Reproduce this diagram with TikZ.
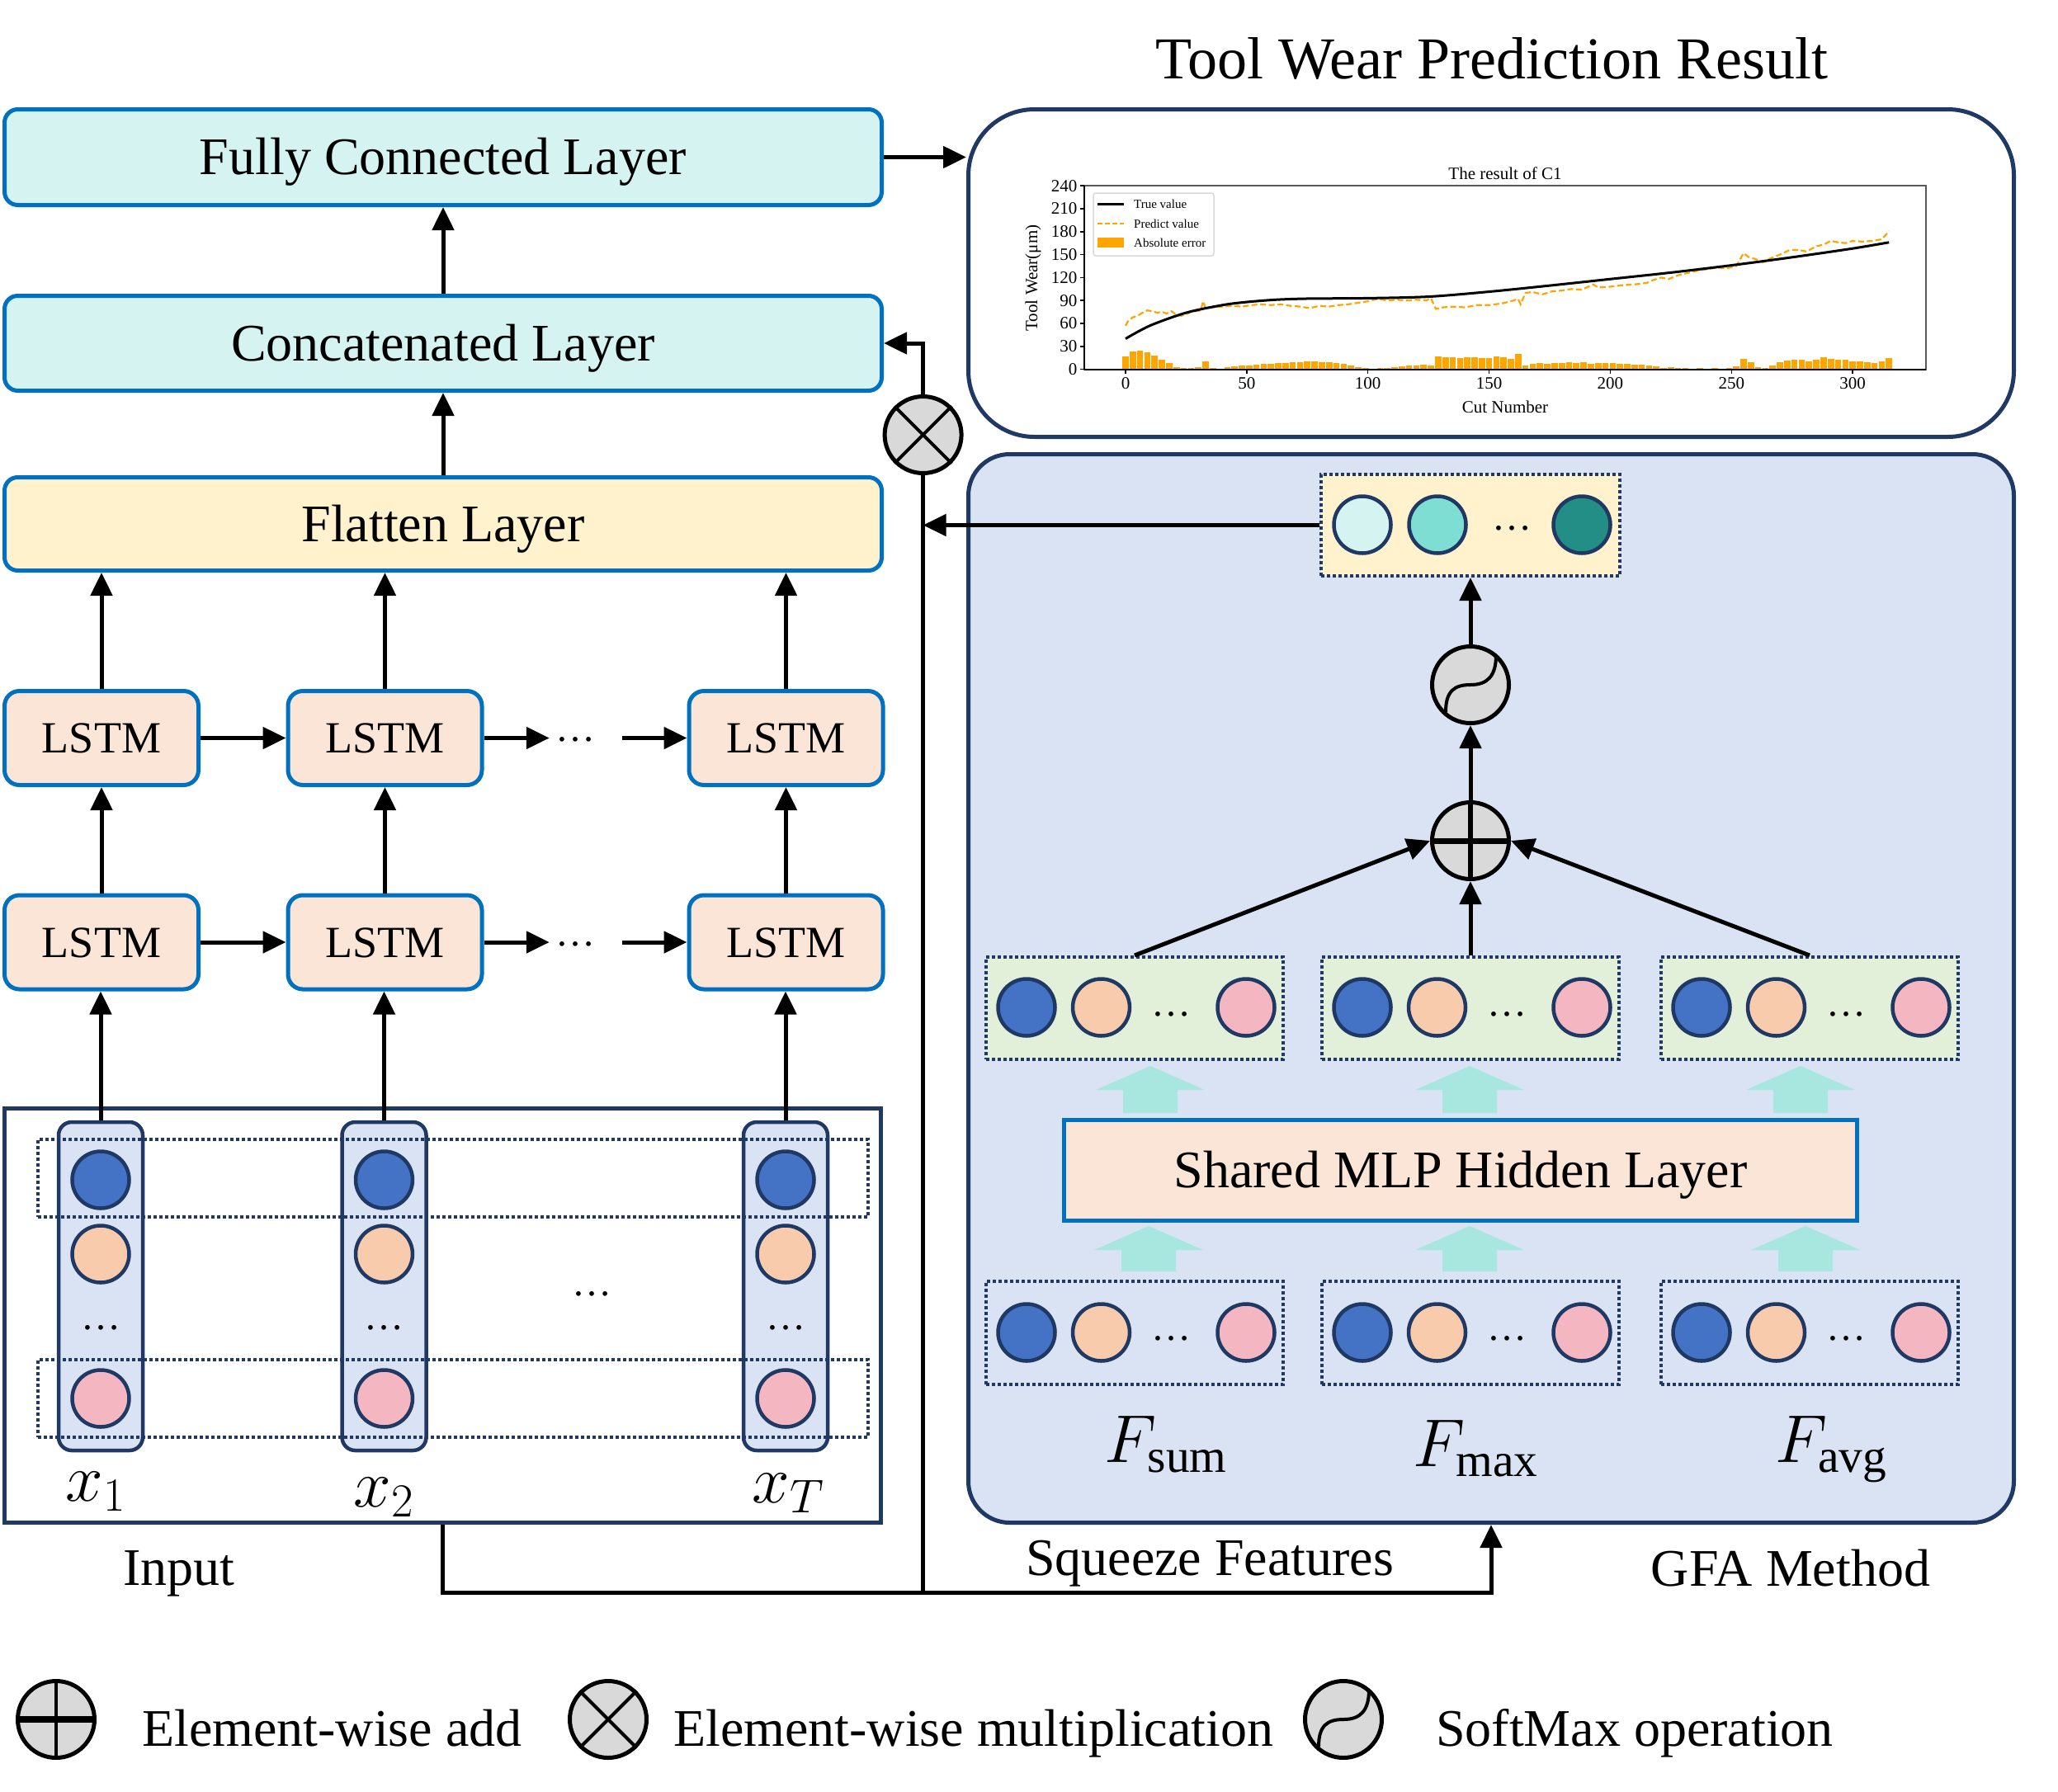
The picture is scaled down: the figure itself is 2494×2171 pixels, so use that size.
\RequirePackage{fix-cm}
\documentclass[tikz,border=0pt]{standalone}
\usepackage{fontspec}
\setmainfont{Liberation Serif}
\usetikzlibrary{arrows.meta,calc}
\definecolor{bord}{HTML}{0070C0}
\definecolor{navy}{HTML}{1F3864}
\definecolor{lcyan}{HTML}{D5F3F0}
\definecolor{flaty}{HTML}{FFF2CC}
\definecolor{lstmf}{HTML}{FBE5D6}
\definecolor{colf}{HTML}{DAE3F3}
\definecolor{cblue}{HTML}{4472C4}
\definecolor{corange}{HTML}{F8CBAD}
\definecolor{cpink}{HTML}{F4B6C0}
\definecolor{gboxf}{HTML}{E2F0D9}
\definecolor{aqua}{HTML}{A8E6E0}
\definecolor{outa}{HTML}{D5F3F0}
\definecolor{outb}{HTML}{7FDED4}
\definecolor{outc}{HTML}{238E85}
\definecolor{opgray}{HTML}{D9D9D9}
\definecolor{plotor}{HTML}{FFA500}
\newcommand\myfs[1]{\fontsize{#1}{#1}\selectfont}
\begin{document}
\begin{tikzpicture}[x=1pt,y=-1pt,
  arr/.style={line width=5pt,-{Triangle[length=28pt,width=26pt]}},
  conn/.style={line width=5pt},
  layerbox/.style={draw=bord,line width=5pt,rounded corners=16pt,minimum width=1063pt,inner sep=0pt,font=\myfs{64},text height=42pt,text depth=0pt},
  lstm/.style={draw=bord,fill=lstmf,line width=5pt,rounded corners=18pt,minimum width=235pt,minimum height=114pt,inner sep=0pt,font=\myfs{54},text height=36pt,text depth=0pt},
  colbox/.style={draw=navy,fill=colf,line width=4.5pt,rounded corners=16pt,minimum width=102pt,minimum height=398pt,inner sep=0pt},
  dotbox/.style={draw=navy,line width=4pt,dash pattern=on 4pt off 3pt,inner sep=0pt},
  ball/.style={circle,draw=navy,line width=4.5pt,minimum size=69pt,inner sep=0pt},
  ell/.style={font=\myfs{48},inner sep=0pt},
  opc/.style={circle,draw=black,line width=5pt,fill=opgray,minimum size=93pt,inner sep=0pt},
  lab/.style={font=\myfs{64},inner sep=0pt,anchor=base},
  chf/.style={font=\myfs{21},inner sep=0pt},
]
\useasboundingbox (0,0) rectangle (2494,2171);

% ---------- title ----------
\node[lab,font=\myfs{72}] (title) at (1808,95) {Tool Wear Prediction Result};

% ---------- left stack ----------
\node[layerbox,fill=lcyan,minimum height=116pt] (fc) at (537,190.5) {Fully Connected Layer};
\node[layerbox,fill=lcyan,minimum height=115pt] (concat) at (537,416) {Concatenated Layer};
\node[layerbox,fill=flaty,minimum height=113pt] (flat) at (537,635) {Flatten Layer};
\draw[arr] (concat.north) -- (fc.south);
\draw[arr] (flat.north) -- (concat.south);

\foreach \i/\x in {1/123,2/466.5,3/952.5}{
  \node[lstm] (u\i) at (\x,894.5) {LSTM};
  \node[lstm] (l\i) at (\x,1142) {LSTM};
}
\node[ell] (ud) at (697,896) {…};
\node[ell] (ld) at (697,1144) {…};
\draw[arr] (u1.east) -- (u2.west);
\draw[arr,shorten >=7pt] (u2.east) -- (u2.east -| ud.west);
\draw[arr,shorten <=33pt] (u3.west -| ud.east) -- (u3.west);
\draw[arr] (l1.east) -- (l2.west);
\draw[arr,shorten >=7pt] (l2.east) -- (l2.east -| ld.west);
\draw[arr,shorten <=33pt] (l3.west -| ld.east) -- (l3.west);

% ---------- input ----------
\node[draw=navy,line width=5pt,minimum width=1062pt,minimum height=502pt,inner sep=0pt] (input) at (536.5,1594.5) {};
\foreach \i/\x in {1/122,2/465.5,3/952}{
  \node[colbox] (c\i) at (\x,1559) {};
}
\node[dotbox,minimum width=1006pt,minimum height=94pt] (rowa) at (549,1428) {};
\node[dotbox,minimum width=1006pt,minimum height=94pt] (rowb) at (549,1695) {};
\foreach \i/\x in {1/122,2/465.5,3/952}{
  \node[ball,fill=cblue] (ba\i) at (\x,1430) {};
  \node[ball,fill=corange] (bb\i) at (\x,1520) {};
  \node[ell] (bd\i) at (\x,1609) {…};
  \node[ball,fill=cpink] (bc\i) at (\x,1695) {};
}
\node[ell] (md) at (717,1568) {…};
\node[lab,font=\myfs{82}] (x1) at (116,1819) {$x_1$};
\node[lab,font=\myfs{82}] (x2) at (465,1826) {$x_2$};
\node[lab,font=\myfs{82}] (xT) at (955,1821) {$x_T$};
\node[lab] (inlab) at (217,1921) {Input};

\foreach \i in {1,2,3}{
  \draw[arr] (u\i.north) -- (u\i.north |- flat.south);
  \draw[arr] (l\i.north) -- (u\i.south);
  \draw[arr] (c\i.north) -- (c\i.north |- l\i.south);
}

% ---------- chart ----------
\node[draw=navy,line width=5pt,rounded corners=80pt,minimum width=1267pt,minimum height=397pt,inner sep=0pt,fill=white] (chart) at (1807,331) {};
\begin{scope}[shift={(1364pt,-447.6pt)},x=2.937pt,y=0.9267pt]
  \foreach \n/\h in {0/17,3/23,6/24,9/22,12/18,15/12,18/8,21/3,24/2,27/2,30/3,33/10,36/2,39/1,42/3,45/4,48/5,51/5,54/6,57/7,60/7,63/8,66/8,69/9,72/9,75/10,78/10,81/9,84/9,87/8,90/7,93/5,96/3,99/2,102/1,105/2,108/2,111/3,114/4,117/5,120/5,123/6,126/5,129/17,132/16,135/16,138/15,141/16,144/16,147/15,150/15,153/17,156/16,159/14,162/20,165/5,168/7,171/8,174/7,177/8,180/8,183/9,186/8,189/9,192/7,195/8,198/8,201/8,204/7,207/7,210/6,213/6,216/5,219/4,222/2,225/3,228/2,231/2,234/1,237/2,240/1,243/2,246/1,249/2,252/4,255/14,258/9,261/3,264/2,267/5,270/9,273/11,276/13,279/12,282/10,285/12,288/16,291/14,294/12,297/13,300/10,303/10,306/9,309/8,312/10,315/15}{
    \fill[plotor] (\n-1.3,0) rectangle (\n+1.3,\h);
  }
  \draw[line width=2.2pt,plotor,dash pattern=on 7pt off 3.5pt] plot coordinates {(0,57) (1,63) (3,68) (5,70) (7,74) (9,77) (11,76) (13,74) (15,75) (17,73) (19,76) (21,71) (23,70) (25,72) (27,75) (29,76) (31,77) (32,89) (33,80) (36,81) (40,82) (44,83) (48,82) (52,84) (56,85) (60,84) (64,85) (68,83) (72,82) (76,80) (80,83) (84,82) (88,84) (92,85) (96,87) (100,89) (104,92) (108,90) (112,91) (116,90) (120,91) (124,90) (126,93) (128,79) (131,81) (135,82) (140,81) (145,84) (150,84) (155,86) (158,88) (160,90) (162,92) (163,85) (165,100) (168,101) (172,98) (176,102) (180,103) (184,105) (188,104) (191,108) (193,111) (195,107) (200,108) (205,110) (210,111) (215,113) (218,117) (221,120) (224,118) (228,123) (232,126) (236,129) (240,131) (244,133) (248,132) (252,135) (255,152) (257,147) (260,144) (263,140) (266,145) (270,150) (274,156) (278,156) (281,154) (285,161) (288,163) (291,168) (294,166) (297,165) (300,168) (304,167) (308,168) (312,170) (314,177) (315,181)};
  \draw[line width=3pt] plot[smooth] coordinates {(0,40) (10,57) (25,74) (40,84) (50,88) (62,91) (75,92.4) (100,93) (125,95) (150,101.5) (175,109.5) (200,118) (225,126.5) (250,136) (275,146.5) (300,158) (315,166)};
  \draw[line width=1.8pt,black!65] (-17,0) rectangle (330.3,240);
  \draw[line width=2.2pt] (-17,0) -- (330.3,0);
  \draw[line width=2.2pt] (-17,0) -- (-17,240);
  \foreach \v in {0,30,...,240}{
    \draw[line width=1.5pt] (-17,\v) -- ++(-1.7,0) node[chf,anchor=east,xshift=-3pt] (yt\v) {\v};
  }
  \foreach \n in {0,50,...,300}{
    \draw[line width=1.5pt] (\n,0) -- (\n,-6) node[chf,anchor=north,yshift=-4pt] (xt\n) {\n};
  }
\end{scope}
\node[chf] (ctitle) at (1824,210) {The result of C1};
\node[chf] (cxl) at (1824,493) {Cut Number};
\node[chf,rotate=90] (cyl) at (1252,337) {Tool Wear(μm)};
\node[draw=black!15,line width=1.5pt,rounded corners=3pt,minimum width=146pt,minimum height=76pt,inner sep=0pt,fill=white] (cleg) at (1398,272) {};
\draw[line width=3pt] (1330,247) -- (1362,247);
\draw[line width=2.2pt,plotor,dash pattern=on 6pt off 3pt] (1330,271) -- (1362,271);
\fill[plotor] (1330,288) rectangle (1362,300);
\node[font=\myfs{15},inner sep=0pt,anchor=west] (lg1) at (1374,247) {True value};
\node[font=\myfs{15},inner sep=0pt,anchor=west] (lg2) at (1374,271) {Predict value};
\node[font=\myfs{15},inner sep=0pt,anchor=west] (lg3) at (1374,294) {Absolute error};
\draw[arr] (fc.east) -- (fc.east -| chart.west);

% ---------- GFA ----------
\node[draw=navy,fill=colf,line width=5pt,rounded corners=50pt,minimum width=1267pt,minimum height=1295pt,inner sep=0pt] (gfa) at (1807,1198) {};

\node[dotbox,fill=flaty,minimum width=362pt,minimum height=123pt] (outbox) at (1782,636.5) {};
\node[ball,fill=outa] (oa) at (1651,636) {};
\node[ball,fill=outb] (ob) at (1742,636) {};
\node[ell] (od) at (1832,640) {…};
\node[ball,fill=outc] (oc) at (1917,636) {};

\node[opc] (sm) at (1782,830) {};
\draw[line width=4pt] ($(sm)+(-30,33)$) .. controls ($(sm)+(-30,8)$) and ($(sm)+(-20,0)$) .. (sm.center) .. controls ($(sm)+(20,0)$) and ($(sm)+(31,-10)$) .. ($(sm)+(31,-36)$);
\node[opc] (add) at (1782,1019) {};
\draw[line width=6pt] (add.north) -- (add.south);
\draw[line width=7pt] (add.west) -- (add.east);

\foreach \i/\x in {1/1375,2/1782,3/2193}{
  \node[dotbox,fill=gboxf,minimum width=360pt,minimum height=124pt] (g\i) at (\x,1222) {};
  \node[ball,fill=cblue] (ga\i) at (\x-131,1221) {};
  \node[ball,fill=corange] (gb\i) at (\x-40.5,1221) {};
  \node[ell] (gd\i) at (\x+44,1229) {…};
  \node[ball,fill=cpink] (gc\i) at (\x+135,1221) {};
  \node[dotbox,minimum width=360pt,minimum height=125pt] (s\i) at (\x,1615.5) {};
  \node[ball,fill=cblue] (sa\i) at (\x-131,1615) {};
  \node[ball,fill=corange] (sb\i) at (\x-40.5,1615) {};
  \node[ell] (sd\i) at (\x+44,1622) {…};
  \node[ball,fill=cpink] (sc\i) at (\x+135,1615) {};
}
\draw[arr] (g1.north) -- (add.west);
\draw[arr] (g2.north) -- (add.south);
\draw[arr] (g3.north) -- (add.east);
\draw[arr] (add.north) -- (sm.south);
\draw[arr] (sm.north) -- (outbox.south);

\node[draw=bord,fill=lstmf,line width=5pt,minimum width=961pt,minimum height=122pt,inner sep=0pt,font=\myfs{64},text height=42pt,text depth=0pt] (mlp) at (1770,1418) {Shared MLP Hidden Layer};

\foreach \cx/\ty/\by in {1394/1292/1349,1781/1292/1349,2182/1292/1349,1392/1486/1541,1781/1486/1541,2188/1486/1541}{
  \fill[aqua] ({\cx-33},\by) -- ({\cx-33},{\ty+29}) -- ({\cx-66},{\ty+29}) -- (\cx,\ty) -- ({\cx+66},{\ty+29}) -- ({\cx+33},{\ty+29}) -- ({\cx+33},\by) -- cycle;
}

\node[lab,font=\myfs{82}] (fsum) at (1413,1772) {$F_{\mathrm{sum}}$};
\node[lab,font=\myfs{82}] (fmax) at (1788,1777) {$F_{\mathrm{max}}$};
\node[lab,font=\myfs{82}] (favg) at (2219,1772) {$F_{\mathrm{avg}}$};
\node[lab] (sq) at (1466,1909) {Squeeze Features};
\node[lab] (gm) at (2170,1922) {GFA Method};

% ---------- skip connections ----------
\node[opc] (mul) at (1118.6,527) {};
\draw[line width=4pt] (mul.north west) -- (mul.south east);
\draw[line width=4pt] (mul.north east) -- (mul.south west);
\coordinate (vb) at (1118.6,1930);
\coordinate (jb) at (1807,1930);
\draw[conn] (vb) -- (mul.south);
\draw[arr] (mul.north) |- (concat.east);
\draw[arr] (input.south) |- (jb) -- (gfa.south);
\draw[arr] (outbox.west) -- (outbox.west -| vb);

% ---------- legend ----------
\node[opc] (lgadd) at (68,2084) {};
\draw[line width=4pt] (lgadd.north) -- (lgadd.south);
\draw[line width=8pt] (lgadd.west) -- (lgadd.east);
\node[lab,anchor=base west] (lgt1) at (172,2116) {Element-wise add};
\node[opc] (lgmul) at (737,2084) {};
\draw[line width=4pt] (lgmul.north west) -- (lgmul.south east);
\draw[line width=4pt] (lgmul.north east) -- (lgmul.south west);
\node[lab,anchor=base west] (lgt2) at (816,2116) {Element-wise multiplication};
\node[opc] (lgsm) at (1628,2084) {};
\draw[line width=4pt] ($(lgsm)+(-30,33)$) .. controls ($(lgsm)+(-30,8)$) and ($(lgsm)+(-20,0)$) .. (lgsm.center) .. controls ($(lgsm)+(20,0)$) and ($(lgsm)+(31,-10)$) .. ($(lgsm)+(31,-36)$);
\node[lab,anchor=base west] (lgt3) at (1740,2116) {SoftMax operation};
\end{tikzpicture}
\end{document}
